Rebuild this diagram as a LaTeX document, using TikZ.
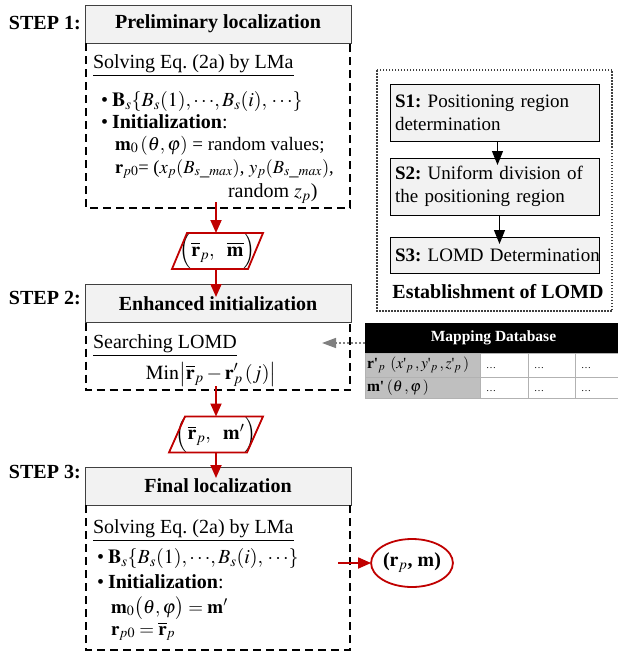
\documentclass[tikz,border=0pt]{standalone}
\usepackage{mathptmx}
\usepackage{fontspec}
\setmainfont{Liberation Serif}
\usetikzlibrary{arrows.meta,calc,shapes.geometric}
\definecolor{dred}{HTML}{C00000}
\definecolor{hdrfill}{HTML}{F2F2F2}
\definecolor{hdrline}{HTML}{404040}
\definecolor{tabgray}{HTML}{BFBFBF}
\definecolor{arrgray}{HTML}{808080}
\newcommand{\myq}{\mbox{\textquotesingle}}
\frenchspacing
\begin{document}
\begin{tikzpicture}[x=1pt,y=-1pt,
  every node/.style={inner sep=0pt, outer sep=0pt, font=\fontsize{20}{24}\selectfont},
  hdr/.style={draw=hdrline, fill=hdrfill, line width=1pt, minimum width=266pt, minimum height=38pt, font=\fontsize{20}{24}\selectfont\bfseries},
  steplabel/.style={anchor=base west, font=\fontsize{20}{24}\selectfont\bfseries},
  bl/.style={anchor=base west},
  dashbox/.style={draw, line width=1.3pt, dash pattern=on 8pt off 5pt},
  redarrow/.style={draw=dred, line width=1.8pt, -{Triangle[length=13pt,width=11pt]}},
  parabox/.style={minimum width=#1, minimum height=34pt},
  para/.style={draw=dred, line width=1.8pt, line join=miter},
  sbox/.style={draw, fill=hdrfill, line width=1pt, anchor=north west, text width=199pt, inner xsep=5pt, align=left, font=\fontsize{19}{23}\selectfont},
  blackarrow/.style={line width=1pt, -{Triangle[length=14pt,width=11pt]}},
  lomdbox/.style={draw=hdrline, line width=1.2pt, dash pattern=on 1.5pt off 1.5pt},
  tcell/.style={draw=gray!60, line width=0.8pt, anchor=north west, inner xsep=2pt, text height=10pt, text depth=3pt, align=left, font=\fontsize{15.5}{17}\selectfont},
  grayarrow/.style={draw=arrgray, line width=1.5pt, dash pattern=on 2pt off 2pt, -{Triangle[length=14pt,width=10pt]}}
]
\useasboundingbox (0,0) rectangle (618,653);

% ---------- STEP 1
\node[steplabel] (st1) at (9,29) {STEP 1:};
\node[hdr] (h1) at (218,24) {Preliminary localization};
\draw[dashbox] ([xshift=1pt]h1.south west) -- ++(0,165) -| ([xshift=-1pt]h1.south east);
\node[bl] (l11) at (93,68) {\underline{Solving Eq. (2a) by LMa}};
\node[bl] (l12) at (101,106) {•\hspace{4pt}$\mathbf{B}_s\{B_s(1),\cdots\!, B_s(i),\, \cdots\}$};
\node[bl] (l13) at (101,128) {•\hspace{4pt}\textbf{Initialization}:};
\node[bl, font=\fontsize{19}{24}\selectfont] (l14) at (115,150) {$\mathbf{m}_0\,(\theta, \varphi)$ = random values;};
\node[bl, font=\fontsize{18.5}{24}\selectfont] (l15) at (115,173) {$\mathbf{r}_{p0}$= ($x_p(B_{s\_max})$, $y_p(B_{s\_max})$,};
\node[bl] (l16) at (228,197) {random $z_p$)};

\node[parabox=91pt] (p1) at (217.5,251) {$\Bigl(\overline{\mathbf{r}}_p,\ \ \overline{\mathbf{m}}\Bigr)$};
\draw[para] ([xshift=15pt]p1.north west) -- (p1.north east) -- ([xshift=-15pt]p1.south east) -- (p1.south west) -- cycle;

% ---------- STEP 2
\node[steplabel] (st2) at (9,304) {STEP 2:};
\node[hdr] (h2) at (218,303.5) {Enhanced initialization};
\draw[dashbox] ([xshift=1pt]h2.south west) -- ++(0,67.5) -| ([xshift=-1pt]h2.south east);
\node[bl] (l21) at (93,348) {\underline{Searching LOMD}};
\node[anchor=base] (l22) at (211,379) {$\mathrm{Min}\bigl|\overline{\mathbf{r}}_p - \mathbf{r}'_p\,(j)\bigr|$};

\node[parabox=94pt, minimum height=35pt] (p2) at (216,434.5) {$\Bigl(\overline{\mathbf{r}}_p,\ \ \mathbf{m}'\Bigr)$};
\draw[para] ([xshift=16pt]p2.north west) -- (p2.north east) -- ([xshift=-16pt]p2.south east) -- (p2.south west) -- cycle;

% ---------- STEP 3
\node[steplabel] (st3) at (9,478) {STEP 3:};
\node[hdr] (h3) at (218,486) {Final localization};
\draw[dashbox] ([xshift=1pt]h3.south west) -- ++(0,145) -| ([xshift=-1pt]h3.south east);
\node[bl] (l31) at (93,533) {\underline{Solving Eq. (2a) by LMa}};
\node[bl] (l32) at (97,563) {•\hspace{4pt}$\mathbf{B}_s\{B_s(1),\cdots\!, B_s(i),\, \cdots\}$};
\node[bl] (l33) at (97,588) {•\hspace{4pt}\textbf{Initialization}:};
\node[bl, font=\fontsize{19}{24}\selectfont] (l34) at (111,613) {$\mathbf{m}_0\bigl(\theta,\varphi\bigr)\;{=}\;\mathbf{m}'$};
\node[bl, font=\fontsize{19}{24}\selectfont] (l35) at (111,635) {$\mathbf{r}_{p0}\;{=}\;\overline{\mathbf{r}}_p$};

\node[ellipse, draw=dred, line width=1.8pt, minimum width=77pt, minimum height=48pt, font=\fontsize{20}{24}\selectfont\bfseries] (res) at (412,563) {($\mathbf{r}_p$, $\mathbf{m}$)};

% ---------- LOMD
\draw[lomdbox] (377,70) rectangle (612,311);
\node[sbox, minimum height=57pt] (s1) at (390,84) {\mbox{\textbf{S1:} Positioning region}\\\mbox{determination}};
\node[sbox, minimum height=57pt] (s2) at (390,158) {\mbox{\textbf{S2:} Uniform division of}\\\mbox{the positioning region}};
\node[sbox, minimum height=36pt] (s3) at (390,237) {\mbox{\textbf{S3:} LOMD Determination}};
\node[anchor=base, font=\fontsize{20}{24}\selectfont\bfseries] (lomd) at (498,298) {Establishment of LOMD};

% ---------- Table
\node[fill=black, text=white, anchor=north west, minimum width=253pt, minimum height=30pt, font=\fontsize{15.5}{18}\selectfont\bfseries] (th) at (365,323) {\hspace{4pt}Mapping Database};
\node[tcell, fill=tabgray, text width=111pt, minimum height=24pt] (c11) at (365,353) {\textbf{r\textquotesingle}$_p\ (x\myq_p\,, y\myq_p\,, z\myq_p\,)$};
\node[tcell, fill=white, text width=44pt, minimum height=24pt] (c12) at (480,353) {\hspace{4pt}{\fontsize{10}{10}\selectfont\dots}};
\node[tcell, fill=white, text width=43pt, minimum height=24pt] (c13) at (528,353) {\hspace{4pt}{\fontsize{10}{10}\selectfont\dots}};
\node[tcell, fill=white, text width=39pt, minimum height=24pt] (c14) at (575,353) {\hspace{4pt}{\fontsize{10}{10}\selectfont\dots}};
\node[tcell, fill=tabgray, text width=111pt, minimum height=21pt] (c21) at (365,377) {\textbf{m\textquotesingle}\,$(\theta\,, \varphi\,)$};
\node[tcell, fill=white, text width=44pt, minimum height=21pt] (c22) at (480,377) {\hspace{4pt}{\fontsize{10}{10}\selectfont\dots}};
\node[tcell, fill=white, text width=43pt, minimum height=21pt] (c23) at (528,377) {\hspace{4pt}{\fontsize{10}{10}\selectfont\dots}};
\node[tcell, fill=white, text width=39pt, minimum height=21pt] (c24) at (575,377) {\hspace{4pt}{\fontsize{10}{10}\selectfont\dots}};

% ---------- connectors
\coordinate (a1) at (216,202);
\draw[redarrow] (a1) -- (a1 |- p1.north);
\coordinate (t2) at (216,297);
\draw[redarrow] (p1.south -| t2) -- (t2);
\coordinate (a3) at (216,386);
\draw[redarrow] (a3) -- (a3 |- p2.north);
\coordinate (t3) at (216,478);
\draw[redarrow] (p2.south -| t3) -- (t3);
\coordinate (a5) at (338,563);
\draw[redarrow] (a5) -- (res.west);
\draw[blackarrow] ([xshift=3pt]s1.south) -- ([xshift=3pt,yshift=-7pt]s2.north);
\draw[blackarrow] ([xshift=5pt]s2.south) -- ([xshift=5pt,yshift=-7pt]s3.north);
\coordinate (gtip) at (322,343);
\draw[grayarrow] ([yshift=-5pt]th.west) -- (gtip);
\end{tikzpicture}
\end{document}
